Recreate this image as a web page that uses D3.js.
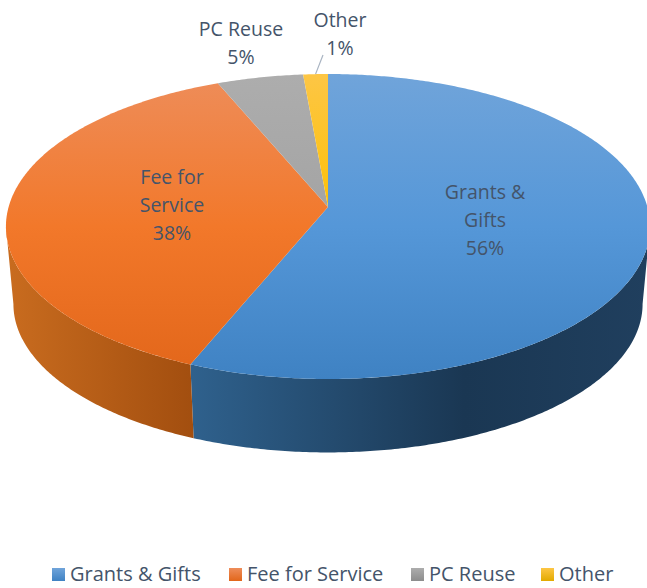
<!DOCTYPE html>
<html>
<head>
<meta charset="utf-8">
<script src="https://cdn.jsdelivr.net/npm/d3@7"></script>
<style>
  html, body { margin: 0; padding: 0; background: #fff; }
  svg { display: block; }
  text { font-family: "Open Sans", sans-serif; fill: #44546a; }
</style>
</head>
<body>
<svg id="chart"></svg>
<script>
const categories = ['Grants & Gifts', 'Fee for Service', 'PC Reuse', 'Other'];
const shares = [56.2, 37.5, 4.9, 1.4];
const shownPercents = ['56%', '38%', '5%', '1%'];
const labelLines = [['Grants &', 'Gifts'], ['Fee for', 'Service'], ['PC Reuse'], ['Other']];
const topColors = [
    ['#70a4da', '#5597d8', '#3f82c3'],
    ['#ee8d5a', '#f2782a', '#e2661a'],
    ['#adadad', '#a3a3a3', '#8c8c8c'],
    ['#fdc645', '#fcc000', '#e2aa00']
];
const sideColors = [
    [[0, '#2f618d'], [0.6, '#1a3753'], [1, '#203f5e']],
    [[0, '#c96c1f'], [1, '#a24e0f']]
];

const width = 647, height = 588;

const svg = d3.select('#chart').attr('width', width).attr('height', height);
const defs = svg.append('defs');

// tilted disc: circle points pushed through a simple perspective
const cx = 328, apexY = 207, tilt = 0.128;
const topFace = { a: 319.4, b: 150, y: apexY };
const bottomFace = { a: 312, b: 146, y: apexY + 78 };

function project(face, angle, r = 1) {
    const u = Math.sin(angle) * r, v = -Math.cos(angle) * r;
    const w = 1 - tilt * v;
    return [cx + face.a * u / w, face.y + face.b * v / w];
}

function arcPoints(face, a0, a1) {
    const n = Math.max(2, Math.ceil(Math.abs(a1 - a0) / 0.01));
    return d3.range(n + 1).map(i => project(face, a0 + (a1 - a0) * i / n));
}

const line = d3.line();
const arcs = d3.pie().sort(null).value(d => d)(shares);

// gradients
topColors.forEach((c, i) => {
    const g = defs.append('linearGradient').attr('id', 'top' + i)
        .attr('gradientUnits', 'userSpaceOnUse')
        .attr('x1', 0).attr('x2', 0).attr('y1', 74).attr('y2', 379);
    c.forEach((col, j) => g.append('stop').attr('offset', j / 2).attr('stop-color', col));
});
// legend swatches use the same colours, on a box of their own
topColors.forEach((c, i) => {
    const g = defs.append('linearGradient').attr('id', 'key' + i)
        .attr('x1', 0).attr('x2', 0).attr('y1', 0).attr('y2', 1);
    g.append('stop').attr('offset', 0).attr('stop-color', c[0]);
    g.append('stop').attr('offset', 1).attr('stop-color', c[2]);
});
const sideRanges = [[191, 647], [6, 195]];
sideColors.forEach((c, i) => {
    const g = defs.append('linearGradient').attr('id', 'side' + i)
        .attr('gradientUnits', 'userSpaceOnUse')
        .attr('y1', 0).attr('y2', 0)
        .attr('x1', sideRanges[i][0]).attr('x2', sideRanges[i][1]);
    c.forEach(s => g.append('stop').attr('offset', s[0]).attr('stop-color', s[1]));
});

// side wall, only the part that faces the viewer
const rightEdge = Math.PI / 2 + Math.asin(tilt);
const leftEdge = 2 * Math.PI - rightEdge;
const walls = [
    { id: 'side0', from: rightEdge, to: arcs[0].endAngle },
    { id: 'side1', from: arcs[1].startAngle, to: leftEdge }
];
svg.append('g').selectAll('path')
    .data(walls)
    .join('path')
    .attr('fill', d => `url(#${d.id})`)
    .attr('d', d => line(arcPoints(topFace, d.from, d.to)
        .concat(arcPoints(bottomFace, d.to, d.from))) + 'Z');

// top of the disc
svg.append('g').selectAll('path')
    .data(arcs)
    .join('path')
    .attr('fill', (d, i) => `url(#top${i})`)
    .attr('d', d => line([[cx, apexY]].concat(arcPoints(topFace, d.startAngle, d.endAngle))) + 'Z');

// leader line for the small slice
const otherTip = project(topFace, (arcs[3].startAngle + arcs[3].endAngle) / 2);
svg.append('line')
    .attr('x1', otherTip[0]).attr('y1', otherTip[1])
    .attr('x2', 323).attr('y2', 55)
    .attr('stroke', '#a9b4c2').attr('stroke-width', 1.2);

// data labels, positions
const labelX = [485, 172, 241, 340];
const labelTop = [192, 177, 29, 20];
const lineGap = 28;
const labels = svg.append('g').attr('font-size', 19.5).attr('text-anchor', 'middle');
categories.forEach((c, i) => {
    const rows = labelLines[i].concat(shownPercents[i]);
    rows.forEach((t, j) => {
        labels.append('text')
            .attr('x', labelX[i])
            .attr('y', labelTop[i] + j * lineGap)
            .attr('dy', '0.35em')
            .text(t);
    });
});

// legend
const keyX = [52, 229, 411, 541];
const legend = svg.append('g');
categories.forEach((c, i) => {
    legend.append('rect')
        .attr('x', keyX[i]).attr('y', 568)
        .attr('width', 13).attr('height', 13)
        .attr('fill', `url(#key${i})`);
    legend.append('text')
        .attr('x', keyX[i] + 18).attr('y', 574)
        .attr('dy', '0.35em')
        .attr('font-size', 20)
        .text(c);
});
</script>
</body>
</html>
